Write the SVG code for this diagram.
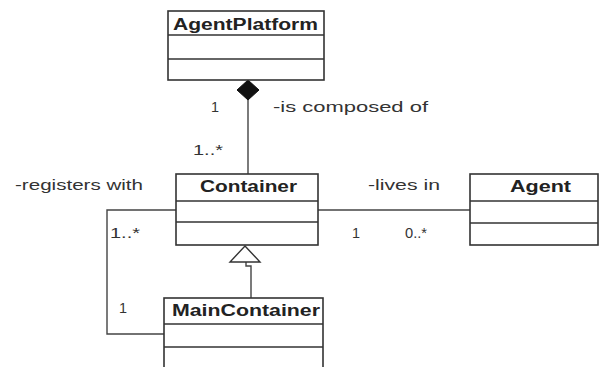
<svg xmlns="http://www.w3.org/2000/svg" width="600" height="367" viewBox="0 0 600 367">
  <style>
    .box { fill: #ffffff; stroke: #333333; stroke-width: 1.6; }
    .div { stroke: #333333; stroke-width: 1.5; }
    .ln { fill: none; stroke: #444444; stroke-width: 1.4; }
    .title { font-family: "Liberation Sans", Arial, sans-serif; font-weight: bold; font-size: 16px; fill: #222222; }
    .lbl { font-family: "Liberation Sans", Arial, sans-serif; font-size: 15px; fill: #333333; }
  </style>

  <!-- associations -->
  <g id="connectors">
    <!-- composition: AgentPlatform to Container -->
    <line class="ln" x1="248" y1="100" x2="248" y2="174"/>
    <polygon points="248,80 259,90 248,100 237,90" fill="#111111" stroke="#111111" stroke-width="1"/>
    <!-- lives in -->
    <line class="ln" x1="318" y1="210" x2="470" y2="210"/>
    <!-- registers with -->
    <path class="ln" d="M176,210 H107 V334 H164"/>
    <!-- generalization: MainContainer to Container -->
    <path class="ln" d="M251,298 V266 H246 V262"/>
    <polygon points="245,246 260,262 230,262" fill="#ffffff" stroke="#333333" stroke-width="1.4"/>

    <text class="lbl" x="211" y="112" textLength="8" lengthAdjust="spacingAndGlyphs">1</text>
    <text class="lbl" x="273" y="112" textLength="155" lengthAdjust="spacingAndGlyphs">-is composed of</text>
    <text class="lbl" x="193" y="155" textLength="30" lengthAdjust="spacingAndGlyphs">1..*</text>
    <text class="lbl" x="15" y="190" textLength="128" lengthAdjust="spacingAndGlyphs">-registers with</text>
    <text class="lbl" x="368" y="190" textLength="72" lengthAdjust="spacingAndGlyphs">-lives in</text>
    <text class="lbl" x="110" y="238" textLength="30" lengthAdjust="spacingAndGlyphs">1..*</text>
    <text class="lbl" x="119" y="313" textLength="8" lengthAdjust="spacingAndGlyphs">1</text>
    <text class="lbl" x="352" y="238" textLength="8" lengthAdjust="spacingAndGlyphs">1</text>
    <text class="lbl" x="405" y="238" textLength="22" lengthAdjust="spacingAndGlyphs">0..*</text>
  </g>

  <g id="AgentPlatform">
    <rect class="box" x="168" y="11" width="156" height="69"/>
    <line class="div" x1="168" y1="35" x2="324" y2="35"/>
    <line class="div" x1="168" y1="59" x2="324" y2="59"/>
    <text class="title" x="173" y="30" textLength="145" lengthAdjust="spacingAndGlyphs">AgentPlatform</text>
  </g>

  <g id="Container">
    <rect class="box" x="176" y="174" width="142" height="71"/>
    <line class="div" x1="176" y1="201" x2="318" y2="201"/>
    <line class="div" x1="176" y1="222" x2="318" y2="222"/>
    <text class="title" x="200" y="192" textLength="97" lengthAdjust="spacingAndGlyphs">Container</text>
  </g>

  <g id="Agent">
    <rect class="box" x="470" y="174" width="128" height="71"/>
    <line class="div" x1="470" y1="201" x2="598" y2="201"/>
    <line class="div" x1="470" y1="223" x2="598" y2="223"/>
    <text class="title" x="510" y="192" textLength="61" lengthAdjust="spacingAndGlyphs">Agent</text>
  </g>

  <g id="MainContainer">
    <rect class="box" x="164" y="298" width="159" height="80"/>
    <line class="div" x1="164" y1="324" x2="323" y2="324"/>
    <line class="div" x1="164" y1="347" x2="323" y2="347"/>
    <text class="title" x="172" y="316" textLength="148" lengthAdjust="spacingAndGlyphs">MainContainer</text>
  </g>
</svg>
